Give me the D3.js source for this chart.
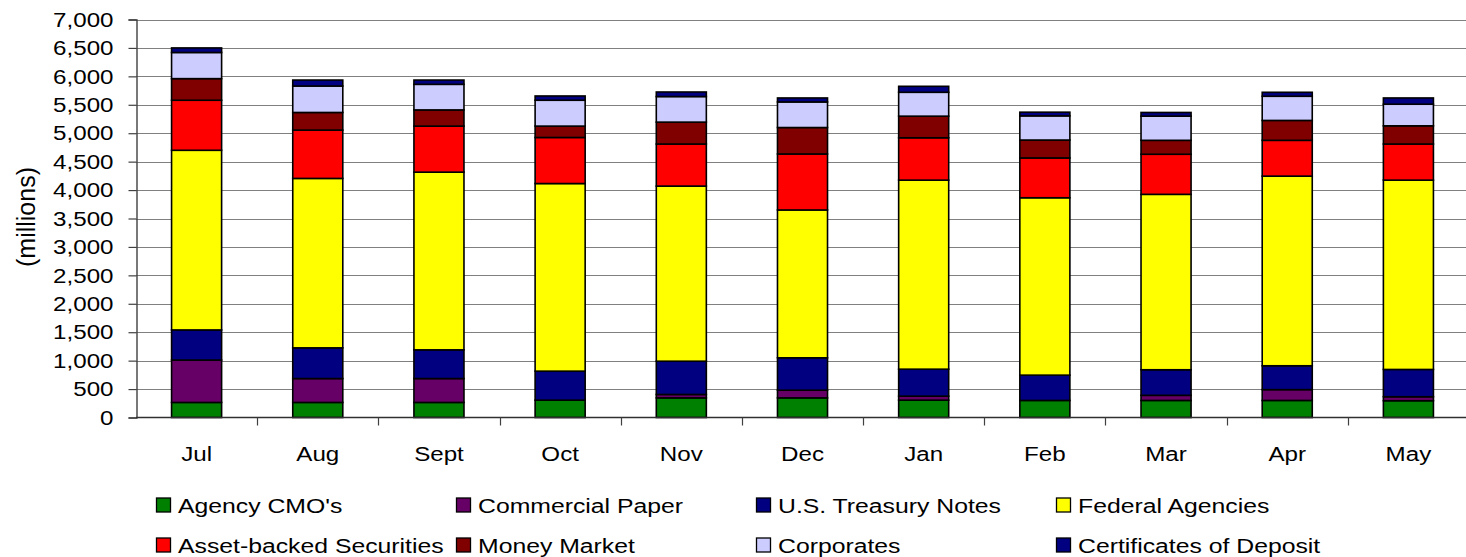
<!DOCTYPE html>
<html>
<head>
<meta charset="utf-8">
<script src="https://cdn.jsdelivr.net/npm/d3@7"></script>
<style>
  html, body { margin: 0; padding: 0; background: #fff; }
  svg { display: block; }
  text { font-family: "Liberation Sans", Arial, sans-serif; fill: #000; }
</style>
</head>
<body>
<svg id="chart" width="1466" height="557"></svg>
<script>
// Portfolio holdings by month (millions)
const months = ["Jul", "Aug", "Sept", "Oct", "Nov", "Dec", "Jan", "Feb", "Mar", "Apr", "May"];

const agencyCMOs       = [265, 265, 265, 305, 345, 345, 305, 300, 300, 300, 295];
const commercialPaper  = [745, 420, 420, 0, 60, 135, 70, 0, 90, 190, 70];
const treasuryNotes    = [530, 540, 505, 510, 585, 570, 475, 445, 450, 420, 480];
const federalAgencies  = [3160, 2980, 3125, 3300, 3080, 2600, 3325, 3120, 3085, 3335, 3330];
const assetBacked      = [880, 850, 810, 810, 740, 985, 745, 700, 705, 630, 635];
const moneyMarket      = [380, 310, 285, 200, 385, 465, 380, 315, 245, 350, 320];
const corporates       = [460, 465, 450, 455, 450, 450, 420, 425, 425, 425, 380];
const certificates     = [80, 105, 75, 75, 80, 70, 105, 65, 65, 70, 110];

const yTicks = [0, 500, 1000, 1500, 2000, 2500, 3000, 3500, 4000, 4500, 5000, 5500, 6000, 6500, 7000];

const seriesNames  = ["Agency CMO's", "Commercial Paper", "U.S. Treasury Notes", "Federal Agencies",
                      "Asset-backed Securities", "Money Market", "Corporates", "Certificates of Deposit"];
const seriesValues = [agencyCMOs, commercialPaper, treasuryNotes, federalAgencies,
                      assetBacked, moneyMarket, corporates, certificates];
const seriesColors = ["#008000", "#660066", "#000080", "#FFFF00",
                      "#FF0000", "#800000", "#CCCCFF", "#000080"];

// Build rows for d3.stack
const rows = months.map((m, i) => {
  const r = { month: m };
  seriesNames.forEach((s, k) => { r[s] = seriesValues[k][i]; });
  return r;
});
const stacked = d3.stack().keys(seriesNames)(rows);

const svg = d3.select("#chart");
const plotLeft = 136, plotRight = 1469, plotTop = 19.5, plotBottom = 417.5;
const fontSize = 21, widen = 1.15, legendWiden = 1.18;   // labels are drawn slightly wide

const x = d3.scaleBand().domain(months).range([plotLeft, plotRight])
  .paddingInner(0.587).paddingOuter(0.2935);
const y = d3.scaleLinear().domain([0, 7000]).range([plotBottom, plotTop]);
const gap = x.step() - x.bandwidth();

// horizontal gridlines
svg.append("g").selectAll("line").data(yTicks.filter(v => v > 0)).join("line")
  .attr("x1", plotLeft).attr("x2", plotRight)
  .attr("y1", d => Math.round(y(d)) + 0.5).attr("y2", d => Math.round(y(d)) + 0.5)
  .attr("stroke", "#808080").attr("stroke-width", 1.2);

// stacked bars
svg.append("g").selectAll("g").data(stacked).join("g")
  .attr("fill", (d, i) => seriesColors[i])
  .selectAll("rect").data(d => d).join("rect")
  .attr("x", d => x(d.data.month))
  .attr("width", x.bandwidth())
  .attr("y", d => y(d[1]))
  .attr("height", d => Math.max(0, y(d[0]) - y(d[1])))
  .attr("stroke", "#000").attr("stroke-width", 1.6);

// y axis
const yAxis = d3.axisLeft(y).tickValues(yTicks).tickSize(8).tickPadding(14)
  .tickFormat(d3.format(","));
const gy = svg.append("g").attr("transform", `translate(${plotLeft + 0.5},0)`).call(yAxis);
gy.select(".domain").attr("stroke", "#404040").attr("stroke-width", 1.4);
gy.selectAll(".tick line").attr("stroke", "#404040").attr("stroke-width", 1.2);
gy.selectAll(".tick text")
  .attr("font-size", fontSize)
  .attr("font-family", "Liberation Sans, Arial, sans-serif").attr("fill", "#000")
  .attr("x", -23 / widen)
  .attr("transform", `scale(${widen},1)`);

// x axis baseline and category separator ticks
svg.append("line").attr("x1", plotLeft).attr("x2", plotRight)
  .attr("y1", y(0)).attr("y2", y(0)).attr("stroke", "#303030").attr("stroke-width", 1.6);
svg.append("g").selectAll("line").data(months.slice(1)).join("line")
  .attr("x1", d => Math.round(x(d) - gap / 2) + 0.5).attr("x2", d => Math.round(x(d) - gap / 2) + 0.5)
  .attr("y1", y(0)).attr("y2", y(0) + 8)
  .attr("stroke", "#404040").attr("stroke-width", 1.2);

// category labels
svg.append("g").selectAll("text").data(months).join("text")
  .attr("transform", d => `translate(${x(d) + x.bandwidth() / 2},461) scale(${widen},1)`)
  .attr("text-anchor", "middle")
  .attr("font-size", fontSize)
  .text(d => d);

// y axis title
svg.append("text")
  .attr("transform", "translate(35,217) rotate(-90)")
  .attr("text-anchor", "middle")
  .attr("font-size", 25)
  .text("(millions)");

// legend: 4 columns, 2 rows
const legendX = [156, 456, 756, 1056];
const legendY = [505, 545];
const lg = svg.append("g").selectAll("g").data(seriesNames).join("g")
  .attr("transform", (d, i) => `translate(${legendX[i % 4]},${legendY[Math.floor(i / 4)]})`);
lg.append("rect")
  .attr("x", 0.5).attr("y", -7).attr("width", 14).attr("height", 14)
  .attr("fill", (d, i) => seriesColors[i]).attr("stroke", "#000").attr("stroke-width", 1.3);
lg.append("text")
  .attr("transform", `translate(22,7.5) scale(${legendWiden},1)`)
  .attr("font-size", fontSize)
  .text(d => d);
</script>
</body>
</html>
